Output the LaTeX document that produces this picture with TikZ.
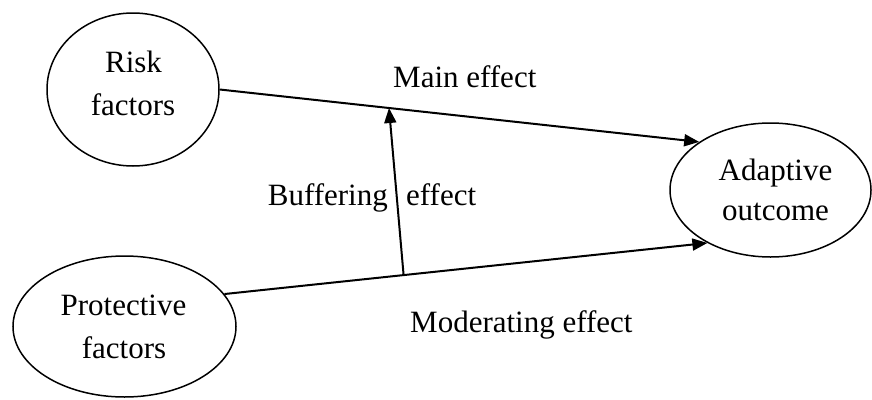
\documentclass[tikz,border=0pt]{standalone}
\usepackage{fontspec}
\setmainfont{Liberation Serif}
\usetikzlibrary{shapes.geometric,arrows.meta,calc}
\begin{document}
\begin{tikzpicture}[x=1pt,y=-1pt,
  oval/.style={ellipse,draw,line width=1.5pt,inner sep=0pt},
  lbl/.style={font=\fontsize{31}{37}\selectfont,inner sep=0pt},
  conn/.style={line width=2pt},
  arr/.style={conn,-{Triangle[length=15pt,width=12pt]}}]
\useasboundingbox (0,0) rectangle (872,399);
\node[oval,minimum width=172pt,minimum height=153pt] (risk) at (133,89.5) {};
\node[oval,minimum width=223pt,minimum height=141pt] (prot) at (124.5,326.5) {};
\node[oval,minimum width=201pt,minimum height=134pt] (adapt) at (770.5,190) {};
\node[lbl,anchor=base] (r1) at (133.5,72) {Risk};
\node[lbl,anchor=base] (r2) at (133,115) {factors};
\node[lbl,anchor=base] (p1) at (123.5,315) {Protective};
\node[lbl,anchor=base] (p2) at (124,358) {factors};
\node[lbl,anchor=base] (a1) at (775.5,180) {Adaptive};
\node[lbl,anchor=base] (a2) at (775.5,220) {outcome};
\node[lbl,anchor=base west] (main) at (393,87) {Main effect};
\node[lbl,anchor=base east] (buf) at (388,205) {Buffering};
\node[lbl,anchor=base west] (bufe) at (406,205) {effect};
\node[lbl,anchor=base west] (mod) at (410,332) {Moderating effect};
\draw[arr] (risk.east) -- (adapt.146);
\draw[arr] (prot.18) -- (adapt.220);
\coordinate (jlow) at ($(prot.18)!0.371!(adapt.220)$);
\coordinate (jhigh) at ($(risk.east)!0.353!(adapt.146)$);
\draw[arr] (jlow) -- (jhigh);
\end{tikzpicture}
\end{document}
